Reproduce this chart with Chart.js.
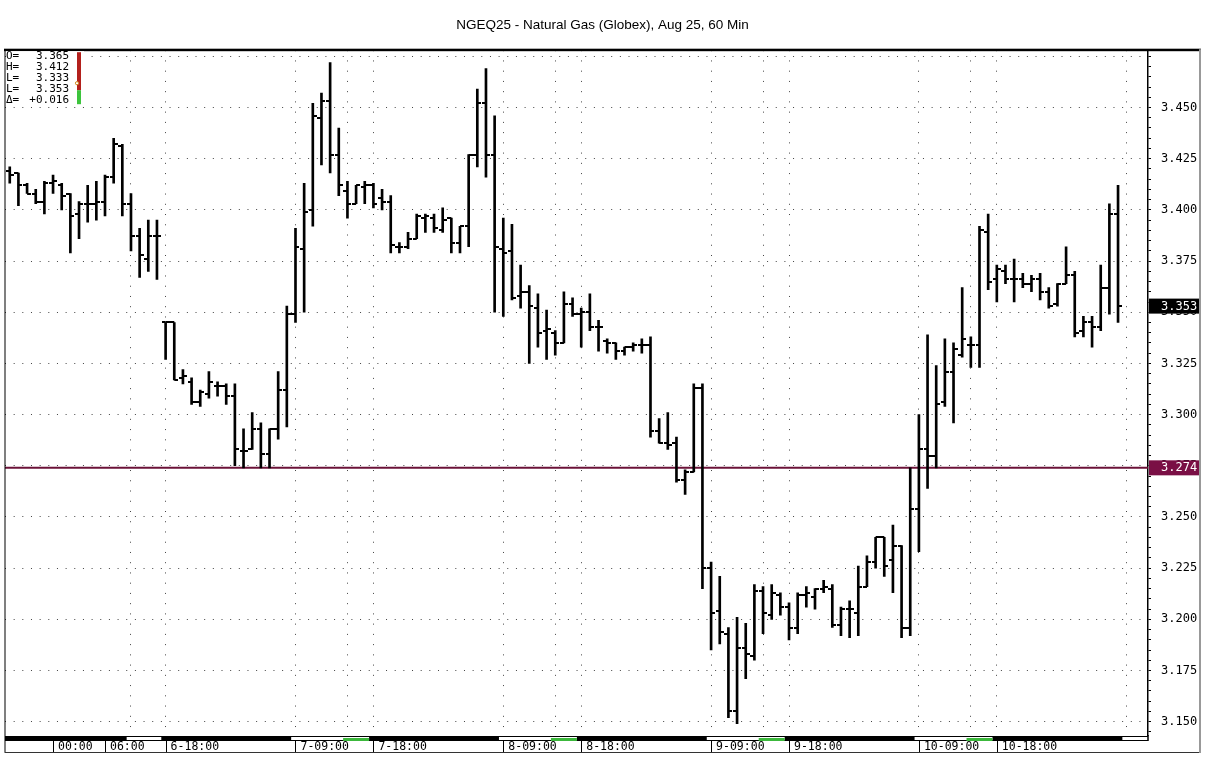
<!DOCTYPE html>
<html>
<head>
<meta charset="utf-8">
<script src="https://cdn.jsdelivr.net/npm/chart.js@4.4.1/dist/chart.umd.min.js"></script>
<style>
    html, body { margin: 0; padding: 0; background: #fff; }
</style>
</head>
<body>
<canvas id="chart-ctx" width="1205" height="757"></canvas>
<script>
// hourly OHLC bars, one per index
const opens = [
    3.419, 3.418, 3.412, 3.408, 3.404, 3.413, 3.412, 3.408, 3.398, 3.403,
    3.403, 3.404, 3.416, 3.431, 3.403, 3.387, 3.376, 3.387, 3.345, 3.345,
    3.318, 3.316, 3.306, 3.310, 3.314, 3.314, 3.309, 3.282, 3.283, 3.293,
    3.281, 3.293, 3.312, 3.349, 3.381, 3.400, 3.445, 3.453, 3.427, 3.409,
    3.403, 3.411, 3.412, 3.406, 3.404, 3.382, 3.382, 3.386, 3.396, 3.396,
    3.390, 3.396, 3.384, 3.392, 3.427, 3.452, 3.427, 3.381, 3.380, 3.358,
    3.360, 3.352, 3.341, 3.340, 3.335, 3.354, 3.349, 3.350, 3.343, 3.336,
    3.335, 3.331, 3.333, 3.334, 3.334, 3.292, 3.286, 3.286, 3.268, 3.272,
    3.313, 3.225, 3.204, 3.193, 3.155, 3.186, 3.182, 3.214, 3.202, 3.212,
    3.206, 3.196, 3.212, 3.211, 3.215, 3.215, 3.197, 3.205, 3.203, 3.216,
    3.228, 3.240, 3.229, 3.236, 3.196, 3.254, 3.283, 3.280, 3.306, 3.321,
    3.329, 3.334, 3.334, 3.389, 3.366, 3.370, 3.366, 3.366, 3.364, 3.366,
    3.360, 3.354, 3.364, 3.368, 3.341, 3.345, 3.343, 3.362, 3.398
];
const highs = [
    3.421, 3.418, 3.413, 3.410, 3.414, 3.417, 3.413, 3.408, 3.404, 3.412,
    3.414, 3.417, 3.435, 3.432, 3.408, 3.391, 3.395, 3.395, 3.345, 3.345,
    3.322, 3.318, 3.312, 3.321, 3.316, 3.315, 3.315, 3.293, 3.301, 3.296,
    3.293, 3.321, 3.353, 3.391, 3.413, 3.452, 3.457, 3.472, 3.440, 3.414,
    3.412, 3.414, 3.413, 3.410, 3.407, 3.384, 3.389, 3.398, 3.398, 3.398,
    3.401, 3.396, 3.392, 3.427, 3.459, 3.469, 3.446, 3.396, 3.393, 3.373,
    3.363, 3.359, 3.351, 3.341, 3.360, 3.357, 3.352, 3.359, 3.346, 3.337,
    3.335, 3.333, 3.335, 3.337, 3.338, 3.298, 3.301, 3.289, 3.273, 3.315,
    3.315, 3.228, 3.221, 3.196, 3.201, 3.198, 3.217, 3.216, 3.217, 3.213,
    3.208, 3.213, 3.216, 3.215, 3.219, 3.217, 3.206, 3.209, 3.226, 3.231,
    3.240, 3.240, 3.246, 3.236, 3.274, 3.300, 3.339, 3.324, 3.337, 3.335,
    3.362, 3.338, 3.392, 3.398, 3.373, 3.373, 3.376, 3.369, 3.368, 3.369,
    3.362, 3.364, 3.382, 3.370, 3.348, 3.348, 3.373, 3.403, 3.412
];
const lows = [
    3.413, 3.402, 3.408, 3.403, 3.398, 3.408, 3.400, 3.379, 3.386, 3.394,
    3.395, 3.397, 3.413, 3.397, 3.380, 3.367, 3.370, 3.366, 3.327, 3.317,
    3.315, 3.305, 3.304, 3.308, 3.309, 3.305, 3.275, 3.274, 3.283, 3.274,
    3.274, 3.288, 3.294, 3.345, 3.350, 3.392, 3.422, 3.418, 3.407, 3.396,
    3.403, 3.403, 3.401, 3.400, 3.379, 3.379, 3.381, 3.386, 3.389, 3.389,
    3.389, 3.379, 3.379, 3.382, 3.421, 3.416, 3.350, 3.348, 3.356, 3.352,
    3.325, 3.333, 3.327, 3.329, 3.335, 3.348, 3.333, 3.341, 3.331, 3.330,
    3.327, 3.329, 3.331, 3.330, 3.289, 3.286, 3.283, 3.267, 3.261, 3.272,
    3.215, 3.185, 3.188, 3.152, 3.149, 3.171, 3.180, 3.193, 3.200, 3.202,
    3.190, 3.193, 3.206, 3.205, 3.213, 3.196, 3.192, 3.191, 3.192, 3.216,
    3.225, 3.221, 3.213, 3.191, 3.192, 3.233, 3.264, 3.274, 3.304, 3.296,
    3.328, 3.323, 3.323, 3.361, 3.355, 3.364, 3.355, 3.362, 3.360, 3.356,
    3.352, 3.353, 3.364, 3.338, 3.338, 3.333, 3.341, 3.349, 3.345
];
const closes = [
    3.417, 3.412, 3.408, 3.404, 3.413, 3.414, 3.407, 3.397, 3.403, 3.403,
    3.404, 3.416, 3.432, 3.403, 3.387, 3.378, 3.387, 3.387, 3.345, 3.317,
    3.319, 3.306, 3.311, 3.316, 3.314, 3.309, 3.283, 3.282, 3.293, 3.281,
    3.293, 3.312, 3.349, 3.382, 3.399, 3.446, 3.453, 3.427, 3.412, 3.403,
    3.412, 3.412, 3.403, 3.404, 3.383, 3.382, 3.386, 3.397, 3.397, 3.391,
    3.395, 3.384, 3.392, 3.427, 3.452, 3.427, 3.382, 3.379, 3.357, 3.360,
    3.353, 3.340, 3.342, 3.335, 3.354, 3.349, 3.350, 3.343, 3.343, 3.335,
    3.331, 3.333, 3.334, 3.334, 3.292, 3.286, 3.285, 3.268, 3.272, 3.313,
    3.225, 3.203, 3.194, 3.155, 3.186, 3.183, 3.214, 3.203, 3.213, 3.206,
    3.196, 3.212, 3.213, 3.215, 3.216, 3.197, 3.205, 3.205, 3.216, 3.228,
    3.240, 3.226, 3.236, 3.196, 3.254, 3.283, 3.280, 3.305, 3.321, 3.332,
    3.337, 3.334, 3.390, 3.365, 3.371, 3.366, 3.366, 3.364, 3.366, 3.360,
    3.353, 3.364, 3.368, 3.340, 3.345, 3.343, 3.362, 3.398, 3.353
];

// time axis
const timeLabelIdx = [5, 11, 18, 33, 42, 57, 66, 81, 90, 105, 114];
const timeLabels = ["00:00", "06:00", "6-18:00", "7-09:00", "7-18:00", "8-09:00",
    "8-18:00", "9-09:00", "9-18:00", "10-09:00", "10-18:00"];
const gridIdx = [14, 18, 33, 39, 42, 57, 63, 66, 81, 87, 90, 105, 111, 114, 129];
const daySessions = [[13.5, 17.5], [32.5, 41.5], [56.5, 65.5], [80.5, 89.5], [104.5, 113.5], [128.5, 132]];
const settleSessions = [[38.5, 41.5], [62.5, 65.5], [86.5, 89.5], [110.5, 113.5]];

const refLevel = 3.274;
const infoNames = ["O=", "H=", "L=", "L=", "\u0394="];
const infoValues = ["3.365", "3.412", "3.333", "3.353", "+0.016"];

const X_MIN = -0.55, X_MAX = 131.46;
const Y_MIN = 3.1435, Y_MAX = 3.478;
const MONO = "'DejaVu Sans Mono', monospace";

const isMajor = (v) => Math.round(v * 1000) % 25 === 0;

function tickMark(side) {
    const c = document.createElement("canvas");
    c.width = 8;
    c.height = 2;
    const g = c.getContext("2d");
    g.fillStyle = "#000";
    g.fillRect(side === "open" ? 0 : 4, 0, 4, 2);
    return c;
}

const decorPlugin = {
    id: "decor",
    beforeDatasetsDraw(chart) {
        const { ctx, chartArea: a, scales: { y } } = chart;
        const py = y.getPixelForValue(refLevel);
        ctx.save();
        ctx.strokeStyle = "#6b1238";
        ctx.lineWidth = 2;
        ctx.beginPath();
        ctx.moveTo(a.left, py);
        ctx.lineTo(a.right, py);
        ctx.stroke();
        ctx.restore();
    },
    afterDraw(chart) {
        const { ctx, chartArea: a, scales: { x, y } } = chart;
        const full = chart.width - 5;
        const bottom = chart.height - 5;
        ctx.save();

        // session band under the plot
        const bandTop = a.bottom + 1;
        ctx.fillStyle = "#000";
        ctx.fillRect(a.left, bandTop, a.right - a.left, 5);
        daySessions.forEach(([s, e]) => {
            const x1 = Math.max(x.getPixelForValue(s), a.left);
            const x2 = Math.min(x.getPixelForValue(e), a.right);
            ctx.fillStyle = "#fff";
            ctx.fillRect(x1, bandTop + 1, x2 - x1, 3);
        });
        settleSessions.forEach(([s, e]) => {
            const x1 = x.getPixelForValue(s);
            const x2 = x.getPixelForValue(e);
            ctx.fillStyle = "#3cb83c";
            ctx.fillRect(x1, bandTop + 2, x2 - x1, 3);
        });

        // time label markers
        ctx.strokeStyle = "#000";
        ctx.lineWidth = 1;
        timeLabelIdx.forEach((i) => {
            const px = Math.round(x.getPixelForValue(i)) + 0.5;
            ctx.beginPath();
            ctx.moveTo(px, bandTop + 5);
            ctx.lineTo(px, bottom);
            ctx.stroke();
        });

        // frame
        ctx.fillStyle = "#000";
        ctx.fillRect(4, a.top - 1.5, full - 3, 2.5);
        ctx.fillRect(4.5, a.top, 1, bottom - a.top);
        ctx.fillStyle = "#333";
        ctx.fillRect(4.5, bottom, full - 4, 1);
        ctx.fillStyle = "#999";
        ctx.fillRect(full - 1, a.top - 1, 2, bottom - a.top + 2);
        ctx.fillStyle = "#000";
        ctx.fillRect(a.right - 0.75, a.bottom, 1.5, 6);

        // price boxes on the axis
        const boxes = [[refLevel, "#7a0f45"], [closes[closes.length - 1], "#000"]];
        ctx.font = "12px " + MONO;
        ctx.textBaseline = "middle";
        ctx.textAlign = "left";
        boxes.forEach(([v, col]) => {
            const py = y.getPixelForValue(v);
            ctx.fillStyle = col;
            ctx.fillRect(a.right + 1, py - 7.5, full - a.right - 2, 15);
            ctx.fillStyle = "#fff";
            ctx.fillText(v.toFixed(3), a.right + 13, py + 0.5);
        });

        // info box
        ctx.fillStyle = "#fff";
        ctx.fillRect(a.left + 1, a.top + 1, 78, 55);
        ctx.font = "11px " + MONO;
        ctx.fillStyle = "#000";
        infoNames.forEach((n, k) => {
            const ty = a.top + 5.5 + k * 11.2;
            ctx.textAlign = "left";
            ctx.fillText(n, a.left + 1, ty);
            ctx.textAlign = "right";
            ctx.fillText(infoValues[k], a.left + 64, ty);
        });
        ctx.fillStyle = "#b3201c";
        ctx.fillRect(a.left + 72, a.top + 2, 4, 38);
        ctx.fillStyle = "#3cc43c";
        ctx.fillRect(a.left + 72, a.top + 40, 4, 14);
        ctx.fillStyle = "#fff";
        ctx.strokeStyle = "#d08a20";
        ctx.beginPath();
        ctx.arc(a.left + 72, a.top + 33, 1.6, 0, Math.PI * 2);
        ctx.fill();
        ctx.stroke();

        ctx.restore();
    }
};

const ctx = document.getElementById("chart-ctx");

new Chart(ctx, {
    type: "bar",
    data: {
        datasets: [
            {
                type: "bar",
                data: highs.map((h, i) => ({ x: i, y: [lows[i], h] })),
                backgroundColor: "#000",
                borderWidth: 0,
                barThickness: 2,
                order: 1,
            },
            {
                type: "scatter",
                data: opens.map((v, i) => ({ x: i, y: v })),
                pointStyle: tickMark("open"),
                pointRadius: 4,
                order: 0,
            },
            {
                type: "scatter",
                data: closes.map((v, i) => ({ x: i, y: v })),
                pointStyle: tickMark("close"),
                pointRadius: 4,
                order: 0,
            },
        ]
    },
    options: {
        responsive: false,
        animation: false,
        events: [],
        layout: {
            padding: { left: 5, right: 5, top: 0, bottom: 5 }
        },
        plugins: {
            legend: { display: false },
            tooltip: { enabled: false },
            title: {
                display: true,
                text: "NGEQ25 - Natural Gas (Globex), Aug 25, 60 Min",
                color: "#000",
                font: { family: "'Liberation Sans', Arial, sans-serif", size: 13.5, weight: "normal" },
                padding: { top: 17, bottom: 17 },
            },
        },
        scales: {
            x: {
                type: "linear",
                min: X_MIN,
                max: X_MAX,
                offset: false,
                afterBuildTicks: (scale) => {
                    const all = [...new Set([...gridIdx, ...timeLabelIdx])].sort((p, q) => p - q);
                    scale.ticks = all.map((v) => ({ value: v }));
                },
                afterFit: (scale) => { scale.height = 17; },
                ticks: {
                    autoSkip: false,
                    maxRotation: 0,
                    minRotation: 0,
                    align: "start",
                    labelOffset: 5,
                    padding: 5,
                    color: "#000",
                    font: { family: MONO, size: 11.5 },
                    callback: (v) => {
                        const k = timeLabelIdx.indexOf(v);
                        return k >= 0 ? timeLabels[k] : "";
                    },
                },
                grid: {
                    offset: false,
                    drawTicks: false,
                    color: (c) => (c.tick && gridIdx.includes(c.tick.value)) ? "#444" : "rgba(0,0,0,0)",
                    lineWidth: 1,
                },
                border: { display: false, dash: [1, 9.24] },
            },
            y: {
                position: "right",
                min: Y_MIN,
                max: Y_MAX,
                afterBuildTicks: (scale) => {
                    const t = [];
                    for (let k = 0; k <= 66; k++) {
                        t.push({ value: +(3.145 + k * 0.005).toFixed(3) });
                    }
                    scale.ticks = t;
                },
                afterFit: (scale) => { scale.width = 52; },
                ticks: {
                    autoSkip: false,
                    padding: 10,
                    color: "#000",
                    font: { family: MONO, size: 12 },
                    callback: (v) => (isMajor(v) && v > 3.1499 && v < 3.4501) ? v.toFixed(3) : "",
                },
                grid: {
                    drawTicks: true,
                    tickLength: 3,
                    tickColor: "#000",
                    color: (c) => (c.tick && isMajor(c.tick.value)) ? "#444" : "rgba(0,0,0,0)",
                    lineWidth: 1,
                },
                border: { display: true, color: "#000", width: 1.5, dash: [1, 7.66] },
            },
        }
    },
    plugins: [decorPlugin],
});
</script>
</body>
</html>
